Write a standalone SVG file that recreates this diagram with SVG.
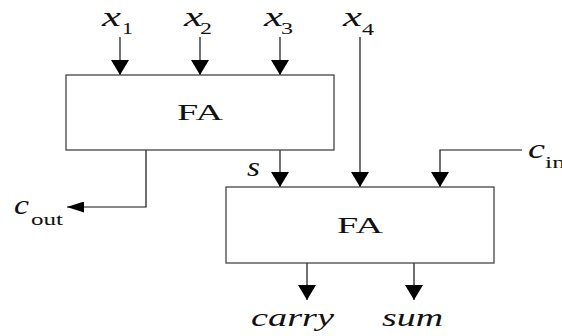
<svg xmlns="http://www.w3.org/2000/svg" width="562" height="336" viewBox="0 0 562 336">
  <style>
    .box { fill: #fff; stroke: #444; stroke-width: 1.3; }
    .wire { fill: none; stroke: #111; stroke-width: 1.2; }
    .lbl { font-family: "Liberation Serif", "Times New Roman", serif; font-style: italic; fill: #111; }
    .sub { font-family: "Liberation Serif", "Times New Roman", serif; fill: #111; font-size: 16px; }
    .fa { font-family: "Liberation Serif", "Times New Roman", serif; fill: #111; font-size: 23px; text-anchor: middle; }
  </style>
  <defs>
    <!-- arrowhead for the vertical wires: 18 wide, 15 long -->
    <marker id="head-v" viewBox="0 0 15 18" refX="15" refY="9" markerWidth="15" markerHeight="18" markerUnits="userSpaceOnUse" orient="auto">
      <path d="M0,0 L15,9 L0,18 Z" fill="#000"/>
    </marker>
    <!-- arrowhead for the horizontal carry-out wire: 17 long, 11 wide -->
    <marker id="head-h" viewBox="0 0 17 11" refX="17" refY="5.5" markerWidth="17" markerHeight="11" markerUnits="userSpaceOnUse" orient="auto">
      <path d="M0,0 L17,5.5 L0,11 Z" fill="#000"/>
    </marker>
  </defs>

  <rect width="562" height="336" fill="#fff"/>

  <!-- connectors -->
  <g id="connectors">
    <line class="wire" x1="120" y1="37" x2="120" y2="75" marker-end="url(#head-v)"/>
    <line class="wire" x1="200" y1="37" x2="200" y2="75" marker-end="url(#head-v)"/>
    <line class="wire" x1="280" y1="37" x2="280" y2="75" marker-end="url(#head-v)"/>
    <line class="wire" x1="360" y1="37" x2="360" y2="187" marker-end="url(#head-v)"/>
    <line class="wire" x1="280" y1="150" x2="280" y2="187" marker-end="url(#head-v)"/>
    <path class="wire" d="M522,150 H440 V187" marker-end="url(#head-v)"/>
    <path class="wire" d="M146,150 V207 H67" marker-end="url(#head-h)"/>
    <line class="wire" x1="307" y1="263" x2="307" y2="300" marker-end="url(#head-v)"/>
    <line class="wire" x1="414" y1="263" x2="414" y2="300" marker-end="url(#head-v)"/>
  </g>

  <!-- first full adder -->
  <g id="fa1">
    <rect class="box" x="66" y="75" width="268" height="75"/>
    <text class="fa" x="200" y="120" textLength="46" lengthAdjust="spacingAndGlyphs">FA</text>
  </g>

  <!-- second full adder -->
  <g id="fa2">
    <rect class="box" x="226" y="187" width="268" height="76"/>
    <text class="fa" x="360" y="233" textLength="46" lengthAdjust="spacingAndGlyphs">FA</text>
  </g>

  <!-- signal labels -->
  <g id="in-x1">
    <text class="lbl" x="102" y="26" font-size="27" textLength="19" lengthAdjust="spacingAndGlyphs">x</text>
    <text class="sub" x="122" y="34" textLength="11" lengthAdjust="spacingAndGlyphs">1</text>
  </g>
  <g id="in-x2">
    <text class="lbl" x="184" y="26" font-size="27" textLength="19" lengthAdjust="spacingAndGlyphs">x</text>
    <text class="sub" x="200" y="34" textLength="12" lengthAdjust="spacingAndGlyphs">2</text>
  </g>
  <g id="in-x3">
    <text class="lbl" x="264" y="26" font-size="27" textLength="19" lengthAdjust="spacingAndGlyphs">x</text>
    <text class="sub" x="281" y="34" textLength="12" lengthAdjust="spacingAndGlyphs">3</text>
  </g>
  <g id="in-x4">
    <text class="lbl" x="343" y="26" font-size="27" textLength="19" lengthAdjust="spacingAndGlyphs">x</text>
    <text class="sub" x="362" y="35" textLength="12" lengthAdjust="spacingAndGlyphs">4</text>
  </g>
  <g id="sig-s">
    <text class="lbl" x="247" y="176" font-size="27" textLength="13" lengthAdjust="spacingAndGlyphs">s</text>
  </g>
  <g id="sig-cin">
    <text class="lbl" x="528" y="158" font-size="27" textLength="17" lengthAdjust="spacingAndGlyphs">c</text>
    <text class="sub" x="545" y="168" textLength="20" lengthAdjust="spacingAndGlyphs">in</text>
  </g>
  <g id="sig-cout">
    <text class="lbl" x="14" y="214" font-size="27" textLength="15" lengthAdjust="spacingAndGlyphs">c</text>
    <text class="sub" x="31" y="225" textLength="32" lengthAdjust="spacingAndGlyphs">out</text>
  </g>
  <g id="out-carry">
    <text class="lbl" x="251" y="326" font-size="26" textLength="83" lengthAdjust="spacingAndGlyphs">carry</text>
  </g>
  <g id="out-sum">
    <text class="lbl" x="382" y="326" font-size="26" textLength="61" lengthAdjust="spacingAndGlyphs">sum</text>
  </g>
</svg>
